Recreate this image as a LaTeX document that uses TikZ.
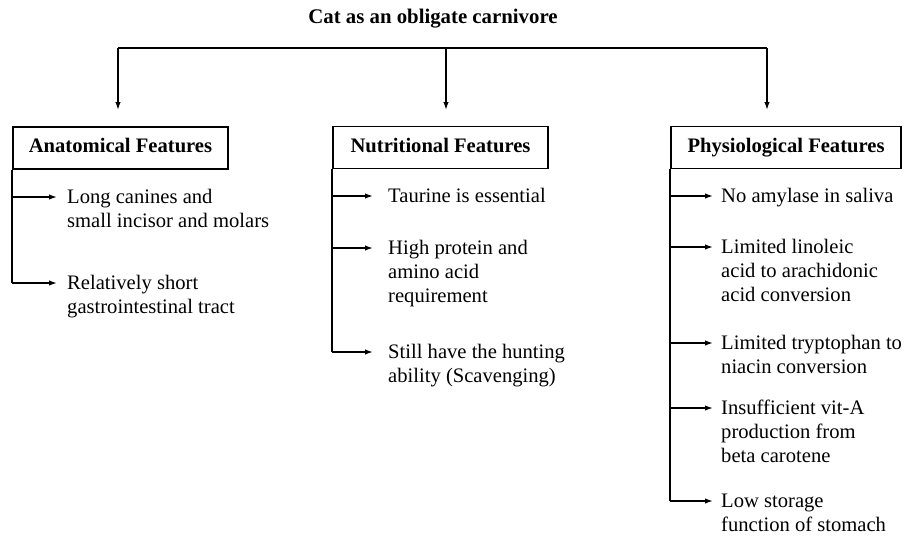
\documentclass[tikz,border=0pt]{standalone}
\usepackage{fontspec}
\setmainfont{Liberation Serif}
\usetikzlibrary{arrows.meta}
\newcommand{\itemfont}{\fontsize{20.6}{24}\selectfont}
\tikzset{
  title/.style={font=\fontsize{20.8}{24}\selectfont\bfseries, inner sep=0pt},
  box/.style={draw, line width=1.8pt, font=\fontsize{20.6}{24}\selectfont\bfseries, minimum height=42pt, inner sep=0pt, text height=14pt, text depth=4.6pt},
  item/.style={anchor=north west, inner sep=0pt, align=left, font=\itemfont},
  conn/.style={line width=1.5pt},
  arr/.style={line width=1.5pt, -{Latex[length=8pt,width=5.5pt]}},
}
\begin{document}
\begin{tikzpicture}[x=1pt,y=-1pt]
\useasboundingbox (0,0) rectangle (910,536);

% title and top bar
\node[title] (T) at (433,19) {Cat as an obligate carnivore};
\coordinate (L) at (118,48);
\coordinate (M) at (446,48);
\coordinate (R) at (767,48);
\coordinate (Lt) at (118,110);
\coordinate (Mt) at (446,110);
\coordinate (Rt) at (767,110);
\draw[conn] (L) -- (R);
\draw[arr] (L) -- (Lt);
\draw[arr] (M) -- (Mt);
\draw[arr] (R) -- (Rt);

% boxes
\node[box, minimum width=215pt] (A) at (120.5,148) {Anatomical Features};
\node[box, minimum width=215pt] (N) at (440.5,147.5) {Nutritional Features};
\node[box, minimum width=230pt] (P) at (786,147.5) {Physiological Features};

% Anatomical
\coordinate (a1a) at (57,197);
\coordinate (a2a) at (57,283);
\node[item] (a1) at ([xshift=10pt,yshift=10.3pt]a1a) {\strut Long canines and\\small incisor and molars};
\node[item] (a2) at ([xshift=10pt,yshift=10.3pt]a2a) {\strut Relatively short\\gastrointestinal tract};
\draw[conn] (A.south west) -- (A.south west |- a2a);
\draw[arr] (A.south west |- a1a) -- (a1a);
\draw[arr] (A.south west |- a2a) -- (a2a);

% Nutritional
\coordinate (n1a) at (373,196);
\coordinate (n2a) at (373,248);
\coordinate (n3a) at (373,352);
\node[item] (n1) at ([xshift=15pt,yshift=10.3pt]n1a) {\strut Taurine is essential};
\node[item] (n2) at ([xshift=15pt,yshift=10.3pt]n2a) {\strut High protein and\\amino acid\\requirement};
\node[item] (n3) at ([xshift=15pt,yshift=10.3pt]n3a) {\strut Still have the hunting\\ability (Scavenging)};
\draw[conn] (N.south west) -- (N.south west |- n3a);
\draw[arr] (N.south west |- n1a) -- (n1a);
\draw[arr] (N.south west |- n2a) -- (n2a);
\draw[arr] (N.south west |- n3a) -- (n3a);

% Physiological
\coordinate (p1a) at (713,196);
\coordinate (p2a) at (713,247);
\coordinate (p3a) at (713,343);
\coordinate (p4a) at (713,408);
\coordinate (p5a) at (713,501);
\node[item] (p1) at ([xshift=8pt,yshift=10.3pt]p1a) {\strut No amylase in saliva};
\node[item] (p2) at ([xshift=8pt,yshift=10.3pt]p2a) {\strut Limited linoleic\\acid to arachidonic\\acid conversion};
\node[item] (p3) at ([xshift=8pt,yshift=10.3pt]p3a) {\strut Limited tryptophan to\\niacin conversion};
\node[item] (p4) at ([xshift=8pt,yshift=10.3pt]p4a) {\strut Insufficient vit-A\\production from\\beta carotene};
\node[item] (p5) at ([xshift=8pt,yshift=10.3pt]p5a) {\strut Low storage\\function of stomach};
\draw[conn] (P.south west) -- (P.south west |- p5a);
\draw[arr] (P.south west |- p1a) -- (p1a);
\draw[arr] (P.south west |- p2a) -- (p2a);
\draw[arr] (P.south west |- p3a) -- (p3a);
\draw[arr] (P.south west |- p4a) -- (p4a);
\draw[arr] (P.south west |- p5a) -- (p5a);
\end{tikzpicture}
\end{document}
